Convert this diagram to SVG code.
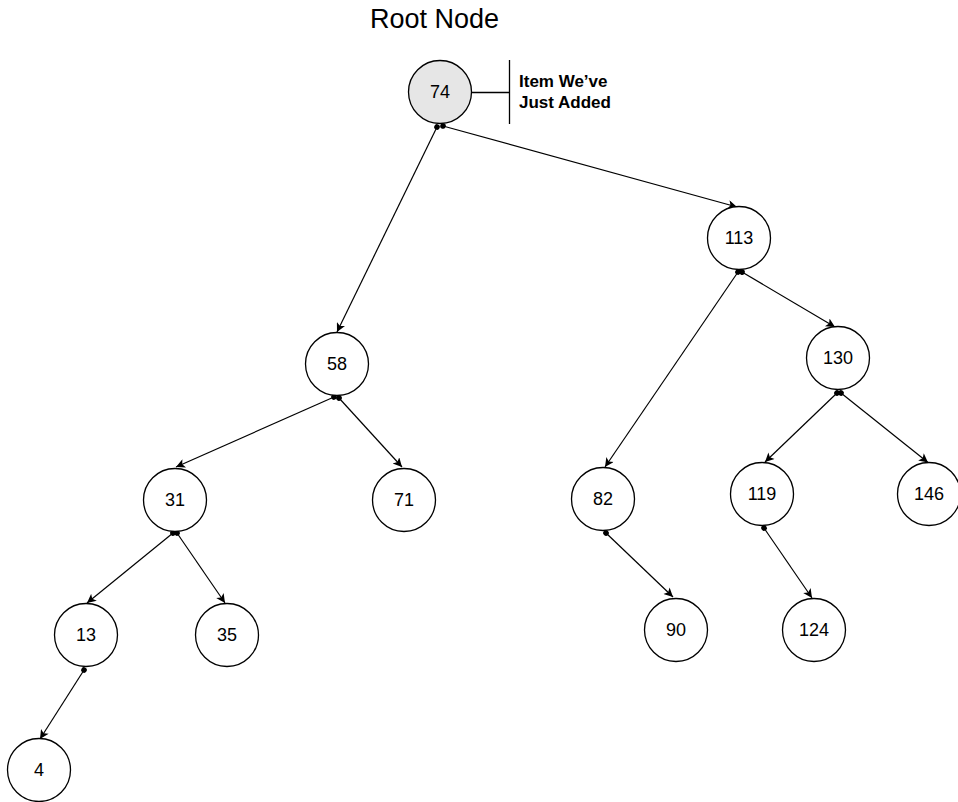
<svg xmlns="http://www.w3.org/2000/svg" width="958" height="802" viewBox="0 0 958 802">
<style>
.node circle{fill:#ffffff;stroke:#000000;stroke-width:1.3}
.node.added circle{fill:#e6e6e6}
.node text{font-family:"Liberation Sans",Arial,sans-serif;font-size:18px;fill:#000000;text-anchor:middle}
.edge{stroke:#000000;stroke-width:1.2;fill:none;marker-start:url(#dot);marker-end:url(#arrow)}
.note{font-family:"Liberation Sans",Arial,sans-serif;font-size:17px;font-weight:bold;fill:#000000}
.title{font-family:"Liberation Sans",Arial,sans-serif;font-size:27px;fill:#000000}
.callout{stroke:#000000;stroke-width:1.3;fill:none}
</style>
<defs>
<marker id="arrow" viewBox="0 0 10 10" refX="10" refY="5" markerWidth="11" markerHeight="9" markerUnits="userSpaceOnUse" orient="auto">
<path d="M0,0 L10,5 L0,10 L2.5,5 z" fill="#000000"/>
</marker>
<marker id="dot" viewBox="0 0 6 6" refX="3" refY="3" markerWidth="6" markerHeight="6" markerUnits="userSpaceOnUse" orient="auto">
<circle cx="3" cy="3" r="2.8" fill="#000000"/>
</marker>
</defs>
<rect x="0" y="0" width="958" height="802" fill="#ffffff"/>
<text class="title" x="370" y="28">Root Node</text>
<g id="connectors">
<line class="edge" x1="437" y1="127" x2="337" y2="332"/>
<line class="edge" x1="443" y1="126" x2="737" y2="207"/>
<line class="edge" x1="334" y1="397" x2="176" y2="467"/>
<line class="edge" x1="339" y1="398" x2="402" y2="467"/>
<line class="edge" x1="173" y1="533" x2="87" y2="603"/>
<line class="edge" x1="177" y1="533" x2="225" y2="603"/>
<line class="edge" x1="84" y1="670" x2="40" y2="739"/>
<line class="edge" x1="738" y1="272" x2="605" y2="467"/>
<line class="edge" x1="742" y1="272" x2="835" y2="327"/>
<line class="edge" x1="837" y1="393" x2="765" y2="462"/>
<line class="edge" x1="841" y1="393" x2="928" y2="462.5"/>
<line class="edge" x1="606" y1="533" x2="673" y2="597"/>
<line class="edge" x1="764" y1="528" x2="812" y2="598"/>
</g>
<g id="callout">
<line class="callout" x1="472" y1="92.5" x2="509.5" y2="92.5"/>
<line class="callout" x1="509.5" y1="60" x2="509.5" y2="124"/>
<text class="note" x="519" y="86.5">Item We’ve</text>
<text class="note" x="519" y="107.5">Just Added</text>
</g>
<g id="n74" class="node added"><circle cx="440" cy="92" r="31.5"/><text x="440" y="98">74</text></g>
<g id="n113" class="node"><circle cx="739" cy="238" r="31.5"/><text x="739" y="244">113</text></g>
<g id="n58" class="node"><circle cx="337" cy="364" r="31.5"/><text x="337" y="370">58</text></g>
<g id="n130" class="node"><circle cx="838" cy="358" r="31.5"/><text x="838" y="364">130</text></g>
<g id="n31" class="node"><circle cx="175" cy="500" r="31.5"/><text x="175" y="506">31</text></g>
<g id="n71" class="node"><circle cx="404" cy="500" r="31.5"/><text x="404" y="506">71</text></g>
<g id="n82" class="node"><circle cx="603" cy="499" r="31.5"/><text x="603" y="505">82</text></g>
<g id="n119" class="node"><circle cx="762" cy="494" r="31.5"/><text x="762" y="500">119</text></g>
<g id="n146" class="node"><circle cx="929" cy="494" r="31.5"/><text x="929" y="500">146</text></g>
<g id="n13" class="node"><circle cx="86" cy="635" r="31.5"/><text x="86" y="641">13</text></g>
<g id="n35" class="node"><circle cx="227" cy="635" r="31.5"/><text x="227" y="641">35</text></g>
<g id="n90" class="node"><circle cx="676" cy="630" r="31.5"/><text x="676" y="636">90</text></g>
<g id="n124" class="node"><circle cx="814" cy="630" r="31.5"/><text x="814" y="636">124</text></g>
<g id="n4" class="node"><circle cx="39" cy="770" r="31.5"/><text x="39" y="776">4</text></g>
</svg>
